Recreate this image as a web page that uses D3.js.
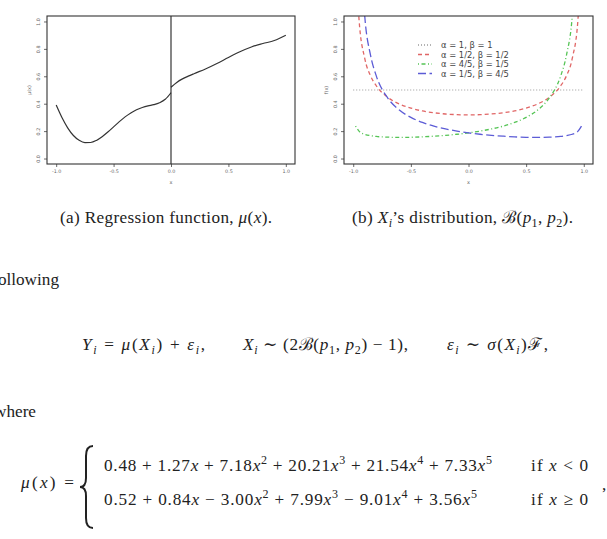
<!DOCTYPE html>
<html>
<head>
<meta charset="utf-8">
<script src="https://cdn.jsdelivr.net/npm/d3@7"></script>
<style>
body { margin: 0; background: #fff; }
svg { display: block; }
</style>
</head>
<body>
<svg id="page" width="607" height="539"></svg>
<script>
// ---- data ----
// (a) regression function, two branches split at x = 0
const muXNeg = [-1, -0.95, -0.9, -0.85, -0.8, -0.75, -0.7, -0.65, -0.6, -0.55, -0.5, -0.45, -0.4, -0.35, -0.3, -0.25, -0.2, -0.15, -0.1, -0.05, 0];
const muYNeg = [0.390, 0.299, 0.224, 0.168, 0.133, 0.116, 0.117, 0.132, 0.159, 0.193, 0.231, 0.269, 0.304, 0.333, 0.356, 0.372, 0.384, 0.393, 0.407, 0.432, 0.480];
const muXPos = [0, 0.05, 0.1, 0.15, 0.2, 0.3, 0.4, 0.5, 0.6, 0.7, 0.8, 0.9, 1];
const muYPos = [0.520, 0.555, 0.581, 0.601, 0.619, 0.653, 0.693, 0.737, 0.779, 0.814, 0.839, 0.861, 0.900];

// (b) densities of 2B(p1,p2) - 1
const betaX = [-0.98, -0.95, -0.9, -0.85, -0.8, -0.7, -0.6, -0.5, -0.4, -0.3, -0.2, -0.1, 0, 0.1, 0.2, 0.3, 0.4, 0.5, 0.6, 0.7, 0.8, 0.85, 0.9, 0.95, 0.98];
const uniformX = [-1, 1];
const uniformY = [0.5, 0.5];
const arcsineY = [1.600, 1.019, 0.730, 0.604, 0.531, 0.446, 0.398, 0.368, 0.347, 0.334, 0.325, 0.320, 0.318, 0.320, 0.325, 0.334, 0.347, 0.368, 0.398, 0.446, 0.531, 0.604, 0.730, 1.019, 1.600];
const rightSkewY = [0.237, 0.200, 0.177, 0.167, 0.161, 0.156, 0.154, 0.155, 0.158, 0.163, 0.169, 0.177, 0.187, 0.200, 0.216, 0.236, 0.263, 0.300, 0.354, 0.441, 0.603, 0.755, 1.038, 1.799, 3.732];
const leftSkewY = [3.732, 1.799, 1.038, 0.755, 0.603, 0.441, 0.354, 0.300, 0.263, 0.236, 0.216, 0.200, 0.187, 0.177, 0.169, 0.163, 0.158, 0.155, 0.154, 0.156, 0.161, 0.167, 0.177, 0.200, 0.237];

const legendLabels = ["α = 1, β = 1", "α = 1/2, β = 1/2", "α = 4/5, β = 1/5", "α = 1/5, β = 4/5"];
const xTicks = [-1, -0.5, 0, 0.5, 1];
const yTicks = [0, 0.2, 0.4, 0.6, 0.8, 1];

const serif = "'Liberation Serif', 'DejaVu Serif', serif";
const sans = "'DejaVu Sans', 'Liberation Sans', sans-serif";

const svg = d3.select("#page");
svg.append("rect").attr("width", 607).attr("height", 539).attr("fill", "#fff");

// ---- one R-style panel ----
function panel(id, box, yTitle) {
    const x = d3.scaleLinear().domain([-1.08, 1.08]).range([box.left, box.right]);
    const y = d3.scaleLinear().domain([-0.04, 1.04]).range([box.bottom, box.top]);
    const g = svg.append("g");

    g.append("clipPath").attr("id", id)
        .append("rect")
        .attr("x", box.left).attr("y", box.top)
        .attr("width", box.right - box.left).attr("height", box.bottom - box.top);

    const xAxis = g.append("g")
        .attr("transform", `translate(0,${box.bottom})`)
        .call(d3.axisBottom(x).tickValues(xTicks).tickSize(3).tickPadding(3).tickFormat(d => d.toFixed(1)));
    const yAxis = g.append("g")
        .attr("transform", `translate(${box.left},0)`)
        .call(d3.axisLeft(y).tickValues(yTicks).tickSize(3).tickPadding(3).tickFormat(d => d.toFixed(1)));
    [xAxis, yAxis].forEach(a => {
        a.select(".domain").remove();
        a.selectAll("line").attr("stroke", "#444").attr("stroke-width", 0.8);
        a.selectAll("text").attr("fill", "#666").attr("font-family", sans).attr("font-size", 4.8);
    });
    yAxis.selectAll(".tick text")
        .attr("text-anchor", "middle")
        .attr("x", null).attr("dy", null)
        .attr("transform", "translate(-7,0) rotate(-90)");

    g.append("text").attr("x", (box.left + box.right) / 2).attr("y", box.bottom + 20)
        .attr("text-anchor", "middle").attr("font-family", sans).attr("font-size", 5).attr("fill", "#666")
        .text("x");
    g.append("text")
        .attr("transform", `translate(${box.left - 16},${(box.top + box.bottom) / 2}) rotate(-90)`)
        .attr("text-anchor", "middle").attr("font-family", sans).attr("font-size", 5).attr("fill", "#666")
        .text(yTitle);

    const plot = g.append("g").attr("clip-path", `url(#${id})`);
    g.append("rect")
        .attr("x", box.left).attr("y", box.top)
        .attr("width", box.right - box.left).attr("height", box.bottom - box.top)
        .attr("fill", "none").attr("stroke", "#333").attr("stroke-width", 1.1);
    return { x, y, g, plot };
}

function addLine(p, xs, ys, color, dash, width) {
    const line = d3.line().x(d => p.x(d[0])).y(d => p.y(d[1])).curve(d3.curveMonotoneX);
    p.plot.append("path")
        .datum(d3.zip(xs, ys))
        .attr("d", line)
        .attr("fill", "none")
        .attr("stroke", color)
        .attr("stroke-width", width)
        .attr("stroke-dasharray", dash);
}

// (a)
const pa = panel("clipA", { left: 47, right: 295, top: 16, bottom: 164 }, "μ(x)");
addLine(pa, muXNeg, muYNeg, "#333", null, 1.2);
addLine(pa, muXPos, muYPos, "#333", null, 1.2);
pa.plot.append("line")
    .attr("x1", pa.x(0)).attr("x2", pa.x(0))
    .attr("y1", 16).attr("y2", 164)
    .attr("stroke", "#222").attr("stroke-width", 1.1);

// (b)
const pb = panel("clipB", { left: 344, right: 593, top: 16, bottom: 164 }, "f(x)");
const styles = [
    { color: "#9a9a9a", dash: "1 2" },
    { color: "#e06666", dash: "4 3" },
    { color: "#55c455", dash: "1 2.5 4 2.5" },
    { color: "#5c5cd6", dash: "8 3.5" }
];
addLine(pb, uniformX, uniformY, styles[0].color, styles[0].dash, 1.1);
addLine(pb, betaX, arcsineY, styles[1].color, styles[1].dash, 1.3);
addLine(pb, betaX, rightSkewY, styles[2].color, styles[2].dash, 1.3);
addLine(pb, betaX, leftSkewY, styles[3].color, styles[3].dash, 1.3);

const legend = pb.g.append("g").attr("transform", "translate(418,45)");
legendLabels.forEach((lab, i) => {
    const row = legend.append("g").attr("transform", `translate(0,${i * 9.5})`);
    row.append("line").attr("x1", 0).attr("x2", 14).attr("y1", 0).attr("y2", 0)
        .attr("stroke", styles[i].color).attr("stroke-width", 1.3).attr("stroke-dasharray", styles[i].dash);
    row.append("text").attr("x", 23).attr("y", 3)
        .attr("font-family", sans).attr("font-size", 8.4).attr("fill", "#444")
        .text(lab);
});

// ---- LaTeX-like text below the figure ----
const R = t => ({ t });
const I = t => ({ t, i: true });
const Sb = (t, it) => ({ t, sub: true, i: it });
const Sp = t => ({ t, sup: true });

function rich(x, y, size, parts, width, anchor) {
    const t = svg.append("text").attr("x", x).attr("y", y)
        .attr("font-family", serif).attr("font-size", size).attr("fill", "#222")
        .attr("text-anchor", anchor || "start")
        .style("white-space", "pre");
    let shift = 0;
    parts.forEach(p => {
        const target = p.sub ? size * 0.22 : p.sup ? -size * 0.38 : 0;
        const ts = t.append("tspan").text(p.t).attr("dy", target - shift);
        shift = target;
        if (p.i) ts.attr("font-style", "italic");
        if (p.sub || p.sup) ts.attr("font-size", size * 0.7);
    });
    if (width) t.attr("textLength", width).attr("lengthAdjust", "spacing");
    return t;
}

const fs = 17.2;
rich(60, 223, fs, [R("(a) Regression function, "), I("μ"), R("("), I("x"), R(").")], 212);
rich(352, 223, fs, [R("(b) "), I("X"), Sb("i", true), R("’s distribution, "), R("ℬ"), R("("), I("p"), Sb("1"), R(", "), I("p"), Sb("2"), R(").")], 221);

rich(59, 285, fs, [R("following")], null, "end");

rich(82, 350, fs, [I("Y"), Sb("i", true), R(" = "), I("μ"), R("("), I("X"), Sb("i", true), R(") + "), I("ε"), Sb("i", true), R(",")], 123);
rich(243, 350, fs, [I("X"), Sb("i", true), R(" ∼ (2"), R("ℬ"), R("("), I("p"), Sb("1"), R(", "), I("p"), Sb("2"), R(") − 1),")], 165);
rich(447, 350, fs, [I("ε"), Sb("i", true), R(" ∼ "), I("σ"), R("("), I("X"), Sb("i", true), R(")"), R("ℱ"), R(",")], 101);

rich(36, 417, fs, [R("where")], null, "end");

rich(21, 488, fs, [I("μ"), R("("), I("x"), R(") =")], 53);
svg.append("path")
    .attr("d", "M93,446 Q86,446 86,456 L86,478 Q86,487 80,487 Q86,487 86,496 L86,518 Q86,528 93,528")
    .attr("fill", "none").attr("stroke", "#222").attr("stroke-width", 2);

rich(104, 471, fs, [R("0.48 + 1.27"), I("x"), R(" + 7.18"), I("x"), Sp("2"), R(" + 20.21"), I("x"), Sp("3"), R(" + 21.54"), I("x"), Sp("4"), R(" + 7.33"), I("x"), Sp("5")], 388);
rich(104, 505, fs, [R("0.52 + 0.84"), I("x"), R(" − 3.00"), I("x"), Sp("2"), R(" + 7.99"), I("x"), Sp("3"), R(" − 9.01"), I("x"), Sp("4"), R(" + 3.56"), I("x"), Sp("5")], 373);
rich(531, 471, fs, [R("if "), I("x"), R(" < 0")], 57);
rich(531, 505, fs, [R("if "), I("x"), R(" ≥ 0")], 57);
rich(602, 490, fs, [R(",")]);
</script>
</body>
</html>
